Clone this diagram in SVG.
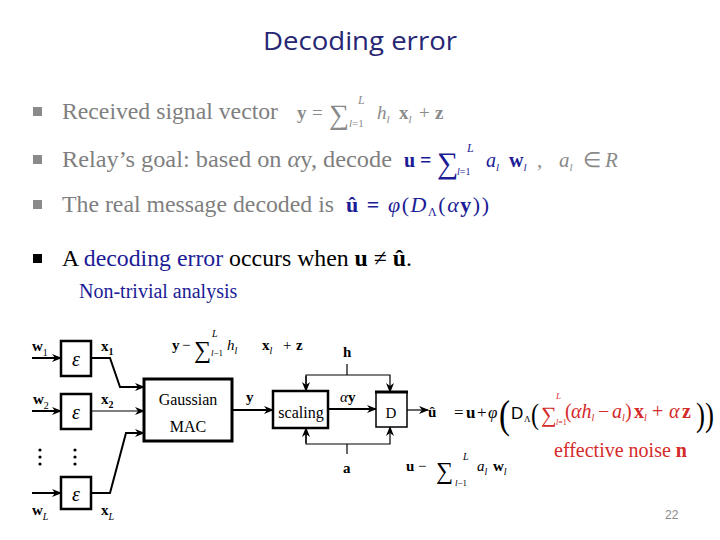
<svg xmlns="http://www.w3.org/2000/svg" width="720" height="540" viewBox="0 0 720 540">
<defs>
<marker id="ah" markerWidth="10" markerHeight="10" refX="9" refY="5" orient="auto" markerUnits="userSpaceOnUse">
<path d="M0,1 L10,5 L0,9 L3,5 Z" fill="#000"/>
</marker>
</defs>
<style>
text{font-family:"Liberation Serif","Times New Roman",serif;}
.t{font-size:24px;fill:#7f7f7f;}
.k{font-size:24px;fill:#000;}
.b{font-weight:bold;}
.i{font-style:italic;}
.blue{fill:#1c1c96;}
.gray{fill:#8a8a8a;}
.red{fill:#d42a2a;}
.dg{font-size:15px;fill:#000;}
.sub{font-size:10px;}
.ln{stroke:#000;stroke-width:2;fill:none;}
.thin{stroke:#000;stroke-width:1.2;fill:none;}
.box{fill:#fff;stroke:#000;stroke-width:2.5;}
.sans{font-family:"Liberation Sans",Arial,sans-serif;}
</style>
<rect width="720" height="540" fill="#fff"/>
<text x="263" y="50" textLength="194" lengthAdjust="spacingAndGlyphs" style="font-family:'Open Sans','Noto Sans',sans-serif;font-size:26px;fill:#262673;">Decoding error</text>

<g id="bullet1">
<rect x="33" y="107" width="9" height="9" fill="#8a8a8a"/>
<text x="62" y="119" class="t" textLength="216" lengthAdjust="spacingAndGlyphs">Received signal vector</text>
<text y="119" class="gray" font-size="19"><tspan x="297" class="b">y</tspan><tspan x="312">=</tspan></text>
<text x="329" y="124" class="gray" font-size="28">∑</text>
<text x="358" y="104" class="gray i" font-size="12">L</text>
<text x="349" y="127" class="gray" font-size="11"><tspan class="i">l</tspan>=1</text>
<text y="119" class="gray" font-size="19"><tspan x="377" class="i">h</tspan><tspan class="i" font-size="11" dy="4">l</tspan><tspan x="399" dy="-4" class="b">x</tspan><tspan class="i" font-size="11" dy="4">l</tspan><tspan x="419" dy="-4">+</tspan><tspan x="435" class="b">z</tspan></text>
</g>

<g id="bullet2">
<rect x="33" y="155" width="9" height="9" fill="#8a8a8a"/>
<text x="62" y="167" class="t" textLength="330" lengthAdjust="spacingAndGlyphs">Relay’s goal: based on <tspan class="i">α</tspan>y, decode</text>
<text y="167" class="blue" font-size="20"><tspan x="404" class="b">u</tspan><tspan x="420" class="b">=</tspan></text>
<text x="437" y="173" class="blue" font-size="30">∑</text>
<text x="467" y="152" class="blue i" font-size="12">L</text>
<text x="457" y="175" class="blue" font-size="10"><tspan class="i">l</tspan>=1</text>
<text y="167" class="blue" font-size="20"><tspan x="486" class="i">a</tspan><tspan class="i" font-size="11" dy="4">l</tspan><tspan x="509" dy="-4" class="b">w</tspan><tspan class="i" font-size="11" dy="4">l</tspan></text>
<text y="167" class="gray" font-size="21"><tspan x="537">,</tspan><tspan x="559" class="i">a</tspan><tspan class="i" font-size="11" dy="4">l</tspan><tspan x="583" dy="-4">∈</tspan><tspan x="605" class="i">R</tspan></text>
</g>

<g id="bullet3">
<rect x="33" y="200" width="9" height="9" fill="#8a8a8a"/>
<text x="62" y="212" class="t" textLength="272" lengthAdjust="spacingAndGlyphs">The real message decoded is</text>
<text x="346" y="212" class="blue" font-size="22" textLength="143" lengthAdjust="spacing"><tspan class="b">û = </tspan><tspan class="i">φ</tspan>(<tspan class="i">D</tspan><tspan font-size="12" dy="4">Λ</tspan><tspan dy="-4">(</tspan><tspan class="i">α</tspan><tspan class="b">y</tspan>))</text>
</g>

<g id="bullet4">
<rect x="33" y="254" width="9" height="9" fill="#000"/>
<text x="62" y="266" class="k" textLength="350" lengthAdjust="spacingAndGlyphs">A <tspan class="blue">decoding error</tspan> occurs when <tspan class="b">u</tspan> ≠ <tspan class="b">û</tspan>.</text>
<text x="79" y="298" font-size="20" class="blue">Non-trivial analysis</text>
</g>

<g id="connectors">
<line x1="32" y1="358" x2="61" y2="358" class="ln" marker-end="url(#ah)"/>
<line x1="32" y1="411" x2="61" y2="411" class="ln" marker-end="url(#ah)"/>
<line x1="32" y1="493" x2="61" y2="493" class="ln" marker-end="url(#ah)"/>
<polyline points="91,358 110,358 120,387 144,387" class="ln" marker-end="url(#ah)"/>
<line x1="91" y1="411" x2="144" y2="411" class="thin" marker-end="url(#ah)"/>
<polyline points="91,493 110,493 126,433 144,433" class="ln" marker-end="url(#ah)"/>
<line x1="232" y1="410" x2="273" y2="410" class="ln" marker-end="url(#ah)"/>
<line x1="347" y1="364" x2="347" y2="375" class="thin"/>
<polyline points="306,391 306,375 390,375 390,392" class="thin" marker-end="url(#ah)"/>
<line x1="306" y1="376" x2="306" y2="391" class="thin" marker-end="url(#ah)"/>
<line x1="347" y1="444" x2="347" y2="454" class="thin"/>
<polyline points="306,428 306,444 390,444 390,427" class="thin" marker-end="url(#ah)"/>
<line x1="306" y1="443" x2="306" y2="428" class="thin" marker-end="url(#ah)"/>
<line x1="328" y1="409" x2="376" y2="409" class="ln" marker-end="url(#ah)"/>
<line x1="407" y1="410" x2="428" y2="410" class="thin" marker-end="url(#ah)"/>
</g>

<g id="enc1">
<rect x="61" y="341" width="30" height="35" class="box"/>
<text x="76" y="366" text-anchor="middle" font-size="20" class="i">ε</text>
</g>
<g id="enc2">
<rect x="61" y="394" width="30" height="35" class="box"/>
<text x="76" y="419" text-anchor="middle" font-size="20" class="i">ε</text>
</g>
<g id="encL">
<rect x="61" y="477" width="30" height="32" class="box"/>
<text x="76" y="501" text-anchor="middle" font-size="20" class="i">ε</text>
</g>
<g id="dots">
<circle cx="40" cy="450" r="1.6"/><circle cx="40" cy="457" r="1.6"/><circle cx="40" cy="464" r="1.6"/>
<circle cx="75" cy="450" r="1.6"/><circle cx="75" cy="457" r="1.6"/><circle cx="75" cy="464" r="1.6"/>
</g>
<g id="labels">
<text x="32" y="351" class="dg b">w<tspan class="sub" font-weight="normal" dy="5">1</tspan></text>
<text x="33" y="404" class="dg b">w<tspan class="sub" font-weight="normal" dy="5">2</tspan></text>
<text x="32" y="515" class="dg b">w<tspan class="sub i" font-weight="normal" dy="5">L</tspan></text>
<text x="101" y="351" class="dg b">x<tspan class="sub" dy="4">1</tspan></text>
<text x="101" y="404" class="dg b">x<tspan class="sub" dy="4">2</tspan></text>
<text x="101" y="515" class="dg b">x<tspan class="sub i" font-weight="normal" dy="5">L</tspan></text>
<text x="246" y="402" class="dg b">y</text>
<text x="343" y="357" class="dg b">h</text>
<text x="343" y="473" class="dg b">a</text>
<text x="340" y="402" class="dg"><tspan class="i">α</tspan><tspan class="b">y</tspan></text>
</g>
<g id="eqy">
<text y="350" class="dg"><tspan x="172" class="b">y</tspan><tspan x="182">−</tspan></text>
<text x="194" y="358" font-size="24">∑</text>
<text x="212" y="337" font-size="10" class="i">L</text>
<text x="211" y="356" font-size="9"><tspan class="i">l</tspan>−1</text>
<text y="350" class="dg"><tspan x="227" class="i">h</tspan><tspan class="sub i" dy="4">l</tspan><tspan x="262" dy="-4" class="b">x</tspan><tspan class="sub i" dy="4">l</tspan><tspan x="283" dy="-4">+</tspan><tspan x="296" class="b">z</tspan></text>
</g>
<g id="mac">
<rect x="144" y="379" width="88" height="62" fill="#fff" stroke="#000" stroke-width="3"/>
<text x="188" y="405" text-anchor="middle" font-size="16">Gaussian</text>
<text x="188" y="432" text-anchor="middle" font-size="16">MAC</text>
</g>
<g id="scaling">
<rect x="273" y="391" width="55" height="37" class="box"/>
<text x="301" y="418" text-anchor="middle" font-size="16">scaling</text>
</g>
<g id="decoder">
<rect x="376" y="392" width="31" height="35" fill="#fff" stroke="#000" stroke-width="1.5"/>
<line x1="375" y1="392" x2="408" y2="392" stroke="#000" stroke-width="3"/>
<text x="391" y="418" text-anchor="middle" font-size="15">D</text>
</g>
<g id="eqout">
<text x="428" y="417" class="dg b">û</text>
<text y="418" font-size="17"><tspan x="454">=</tspan><tspan x="466" class="b">u</tspan><tspan x="477">+</tspan><tspan x="488" class="i">φ</tspan></text>
<text x="499" y="428" font-size="40" textLength="11" lengthAdjust="spacingAndGlyphs">(</text>
<text x="511" y="419" font-size="17" class="sans">D</text>
<text x="524" y="422" font-size="9">Λ</text>
<text x="531" y="424" font-size="30" textLength="8" lengthAdjust="spacingAndGlyphs">(</text>
<text x="541" y="422" font-size="22" class="red">∑</text>
<text x="556" y="399" font-size="9" class="red i">L</text>
<text x="556" y="425" font-size="8" class="red"><tspan class="i">l</tspan>=1</text>
<text y="418" font-size="20" class="red"><tspan x="565">(</tspan><tspan x="571" class="i">αh</tspan><tspan font-size="10" class="i" dy="3">l</tspan><tspan x="598" dy="-3">−</tspan><tspan x="612" class="i">a</tspan><tspan font-size="10" class="i" dy="3">l</tspan><tspan x="625" dy="-3">)</tspan><tspan x="634" class="b">x</tspan><tspan font-size="10" class="i" dy="3">l</tspan><tspan x="652" dy="-3">+</tspan><tspan x="669" class="i">α</tspan><tspan x="682" class="b">z</tspan></text>
<text x="696" y="426" font-size="34" textLength="18" lengthAdjust="spacingAndGlyphs">))</text>
<text x="554" y="457" font-size="20" class="red">effective noise <tspan class="b">n</tspan></text>
</g>
<g id="equ">
<text y="471" class="dg"><tspan x="406" class="b">u</tspan><tspan x="418">−</tspan></text>
<text x="436" y="479" font-size="24">∑</text>
<text x="463" y="460" font-size="10" class="i">L</text>
<text x="455" y="486" font-size="9"><tspan class="i">l</tspan>−1</text>
<text y="471" class="dg"><tspan x="477" class="i">a</tspan><tspan class="sub i" dy="4">l</tspan><tspan x="493" dy="-4" class="b">w</tspan><tspan class="sub i" dy="4">l</tspan></text>
</g>
<text x="665" y="519" font-size="12" class="sans" style="fill:#8a8a8a;">22</text>
</svg>
